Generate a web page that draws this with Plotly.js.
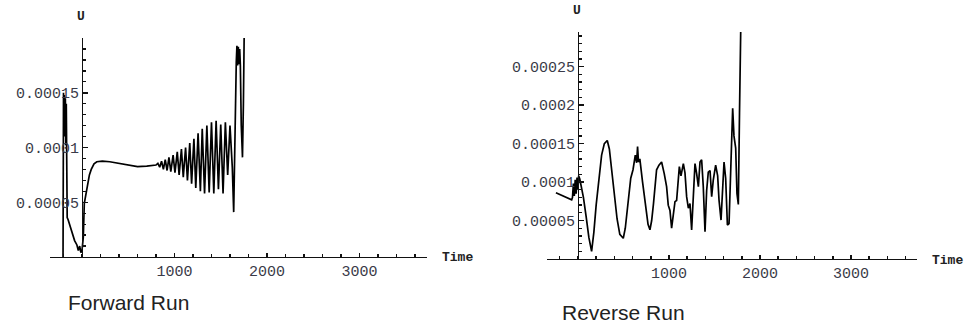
<!DOCTYPE html>
<html>
<head>
<meta charset="utf-8">
<script src="https://cdn.plot.ly/plotly-3.0.1.min.js"></script>
<style>
  html, body { margin: 0; padding: 0; background: #fff; }
  #chart { width: 966px; height: 323px; }
</style>
</head>
<body>
<div id="chart"></div>
<script>
// Forward run: U against time
const fwdTime = [
  -205, -200, -195, -190, -185, -180, -175, -170, -165, -160, -150, -135, -110, -80, -55, -40, -25, -12, 0,
  8, 14, 25, 40, 60, 80, 100, 130, 160, 220, 300, 400, 500, 600, 700, 780,
  800, 820, 840, 860, 880, 900, 920, 940, 960, 985, 1005, 1030, 1050, 1075, 1095, 1120, 1140,
  1165, 1185, 1210, 1230, 1255, 1280, 1300, 1325, 1350, 1375, 1400, 1425, 1450, 1475, 1500,
  1525, 1550, 1575, 1600, 1625, 1640, 1648, 1660, 1668, 1675, 1682, 1690, 1697, 1705, 1712,
  1722, 1735, 1745, 1755
];
const fwdU = [
  0, 0.00015, 0.000125, 0.000148, 0.00011, 0.000145, 0.000102, 0.00014, 0.0001, 0.000036, 0.000034, 0.00003, 0.000024, 0.000015, 0.000011, 0.000006, 0.00001, 0.000004, 0.000006,
  0.000012, 0.000018, 0.000049, 0.000057, 0.000066, 0.000075, 0.00008, 0.000085, 0.000087, 0.0000875, 0.000087, 0.0000855, 0.000084, 0.0000825, 0.000083, 0.0000835,
  0.000084, 0.0000855, 0.000082, 0.0000875, 0.00008, 0.000089, 0.000079, 0.000091, 0.000078, 0.000093, 0.000077, 0.000096, 0.000075, 0.0000985, 0.000073, 0.0001, 0.00007,
  0.000104, 0.000067, 0.000108, 0.000063, 0.000113, 0.00006, 0.000117, 0.000058, 0.00012, 0.000059, 0.000123, 0.000058, 0.0001245, 0.000062, 0.000121,
  0.000058, 0.000123, 0.000075, 0.00012, 0.000082, 0.000041, 0.00009, 0.000118, 0.000178, 0.000193, 0.000175, 0.000192, 0.000176, 0.00019, 0.000175,
  0.00012, 0.000091, 0.00014, 0.000215
];

// Reverse run: U against time
const revTime = [
  -242, -69, -60, -50, -40, -30, -20, -10, 0, 8, 20, 40, 60, 90, 120, 150, 175, 200, 230, 260, 290, 322,
  345, 370, 400, 430, 460, 498, 520, 550, 580, 605, 630, 645, 655, 665, 680, 710, 740, 770, 791,
  810, 830, 846, 864, 890, 919, 948, 974, 992, 1011, 1029, 1048, 1066, 1084, 1103, 1114, 1132, 1158,
  1176, 1194, 1213, 1231, 1249, 1268, 1286, 1304, 1323, 1341, 1359, 1377, 1396, 1414, 1432, 1451,
  1469, 1487, 1513, 1535, 1550, 1572, 1590, 1605, 1623, 1642, 1660, 1674, 1689, 1700, 1714, 1733,
  1747, 1762, 1775, 1790
];
const revU = [
  0.000086, 0.000077, 0.00008, 0.000098, 0.000082, 0.000103, 0.000085, 0.000106, 0.00009, 0.000108, 0.000104, 0.000094, 0.00008, 0.000055, 0.000028, 0.00001, 0.000035, 0.00007, 0.000105, 0.000135, 0.00015, 0.000154,
  0.000143, 0.000115, 0.00008, 0.000052, 0.000032, 0.000027, 0.00004, 0.00007, 0.000105, 0.000116, 0.000135, 0.000125, 0.000146, 0.000126, 0.00013, 0.0001, 0.00007, 0.000045, 0.000038,
  0.00005, 0.000072, 0.00009, 0.000116, 0.000122, 0.000126, 0.000111, 0.000094, 0.00007, 0.000063, 0.00004, 0.000059, 0.0000745, 0.000076, 0.0001025, 0.00012, 0.000108, 0.000124,
  0.000112, 0.000081, 0.000066, 0.000072, 0.0000377, 0.000081, 0.000124, 0.000111, 0.000094, 0.000126, 0.000129, 0.000094, 0.0000355, 0.000089, 0.000113, 0.000115,
  0.000081, 0.000103, 0.000122, 0.000108, 0.0000766, 0.0000506, 0.000103, 0.000126, 0.000105, 0.0000442, 0.000046, 0.00011, 0.00017, 0.000196, 0.00016, 0.000144,
  0.0000853, 0.000071, 0.00019, 0.00031
];

// Tick labels
const xTickVals = [1000, 2000, 3000];
const xTickText = ['1000', '2000', '3000'];
const fwdYTickVals = [0.00005, 0.0001, 0.00015];
const fwdYTickText = ['0.00005', '0.0001', '0.00015'];
const revYTickVals = [0.00005, 0.0001, 0.00015, 0.0002, 0.00025];
const revYTickText = ['0.00005', '0.0001', '0.00015', '0.0002', '0.00025'];

const W = 966, H = 323;
const fwdXRange = [-346, 3730], fwdYRange = [0, 0.0002];
const revXRange = [-340, 3725], revYRange = [0, 0.000295];
const fwdXDom = [50 / W, 427 / W], fwdYDom = [1 - 257 / H, 1 - 38 / H];
const revXDom = [547 / W, 917 / W], revYDom = [1 - 259 / H, 1 - 32 / H];

// place the vertical axis where time = 0
function zeroPos(dom, range) {
  return dom[0] + (0 - range[0]) / (range[1] - range[0]) * (dom[1] - dom[0]);
}

const tickFont = { family: 'Liberation Mono, monospace', size: 15, color: '#3a3a48' };
const lineCol = '#111';

function xAxis(dom, range, anchor) {
  return {
    domain: dom, range: range, anchor: anchor,
    showgrid: false, zeroline: false, showline: true, linecolor: lineCol, linewidth: 1.3,
    tickmode: 'array', tickvals: xTickVals, ticktext: xTickText,
    ticks: 'inside', ticklen: 4, tickwidth: 1.5, tickcolor: lineCol,
    minor: { tickmode: 'linear', tick0: 0, dtick: 200, ticks: 'inside', ticklen: 3, tickwidth: 1.5, tickcolor: lineCol },
    tickfont: tickFont, fixedrange: true
  };
}
function yAxis(dom, range, pos, vals, text) {
  return {
    domain: dom, range: range, anchor: 'free', position: pos,
    showgrid: false, zeroline: false, showline: true, linecolor: lineCol, linewidth: 1.3,
    tickmode: 'array', tickvals: vals, ticktext: text,
    ticks: 'inside', ticklen: 5, tickwidth: 1.5, tickcolor: lineCol,
    minor: { tickmode: 'linear', tick0: 0, dtick: 0.00001, ticks: 'inside', ticklen: 3, tickwidth: 1.3, tickcolor: lineCol },
    tickfont: tickFont, fixedrange: true
  };
}

const data = [
  { x: fwdTime, y: fwdU, xaxis: 'x', yaxis: 'y', mode: 'lines', line: { color: '#000', width: 1.7 }, hoverinfo: 'skip' },
  { x: revTime, y: revU, xaxis: 'x2', yaxis: 'y2', mode: 'lines', line: { color: '#000', width: 1.7 }, hoverinfo: 'skip' }
];

const labelFont = { family: 'Liberation Mono, monospace', size: 13, color: '#222', weight: 'bold' };
const captionFont = { family: 'Liberation Sans, Arial, sans-serif', size: 21, color: '#222' };

const layout = {
  width: W, height: H,
  margin: { l: 0, r: 0, t: 0, b: 0 },
  paper_bgcolor: '#fff', plot_bgcolor: '#fff',
  showlegend: false,
  xaxis: xAxis(fwdXDom, fwdXRange, 'y'),
  yaxis: yAxis(fwdYDom, fwdYRange, zeroPos(fwdXDom, fwdXRange), fwdYTickVals, fwdYTickText),
  xaxis2: xAxis(revXDom, revXRange, 'y2'),
  yaxis2: yAxis(revYDom, revYRange, zeroPos(revXDom, revXRange), revYTickVals, revYTickText),
  annotations: [
    { text: 'U', xref: 'paper', yref: 'paper', x: 81 / W, y: 1 - 17 / H, showarrow: false, font: labelFont, xanchor: 'center', yanchor: 'middle' },
    { text: 'U', xref: 'paper', yref: 'paper', x: 577 / W, y: 1 - 11 / H, showarrow: false, font: labelFont, xanchor: 'center', yanchor: 'middle' },
    { text: 'Time', xref: 'paper', yref: 'paper', x: 457 / W, y: 1 - 257 / H, showarrow: false, font: labelFont, xanchor: 'center', yanchor: 'middle' },
    { text: 'Time', xref: 'paper', yref: 'paper', x: 947 / W, y: 1 - 260 / H, showarrow: false, font: labelFont, xanchor: 'center', yanchor: 'middle' },
    { text: 'Forward Run', xref: 'paper', yref: 'paper', x: 128 / W, y: 1 - 302 / H, showarrow: false, font: captionFont, xanchor: 'center', yanchor: 'middle' },
    { text: 'Reverse Run', xref: 'paper', yref: 'paper', x: 623 / W, y: 1 - 312 / H, showarrow: false, font: captionFont, xanchor: 'center', yanchor: 'middle' }
  ]
};

Plotly.newPlot('chart', data, layout, { staticPlot: true, displayModeBar: false });
</script>
</body>
</html>
